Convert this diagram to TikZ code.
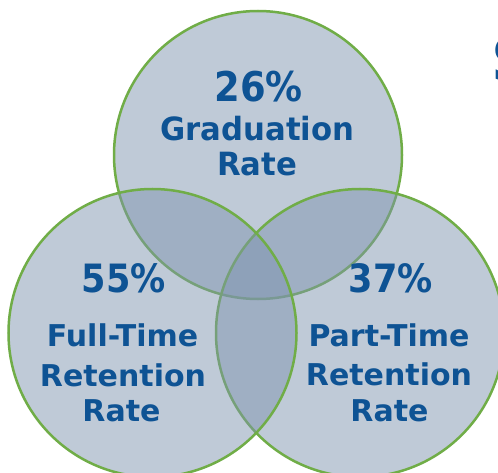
\documentclass[tikz,border=0pt]{standalone}
\usepackage{fontspec}
\setmainfont{DejaVu Sans}
\newfontfamily\numfont{DejaVu Sans}[FakeStretch=0.9]
\newfontfamily\topfont{DejaVu Sans}[FakeStretch=0.96]
\definecolor{vennfill}{RGB}{126,147,175}
\definecolor{venngreen}{RGB}{112,173,71}
\definecolor{txtblue}{RGB}{14,83,148}
\tikzset{
  venn/.style={circle, minimum size=288pt, inner sep=0pt, outer sep=0pt,
    fill=vennfill, fill opacity=0.49, draw=venngreen, draw opacity=1, line width=2.5pt},
  numtxt/.style={anchor=base, inner sep=0pt, text=txtblue, font=\numfont\fontsize{39}{39}\selectfont\bfseries},
  toptxt/.style={anchor=base, inner sep=0pt, text=txtblue, font=\topfont\fontsize{32}{32}\selectfont\bfseries},
  lbltxt/.style={anchor=base, inner sep=0pt, text=txtblue, font=\fontsize{30}{30}\selectfont\bfseries}
}
\begin{document}
\begin{tikzpicture}[x=1pt,y=-1pt]
\useasboundingbox (0,0) rectangle (498,473);
\clip (0,0) rectangle (498,473);
\fill[white] (0,0) rectangle (498,473);
% circles: top, right, left (drawing order matters)
\node[venn] (ctop) at (258,155) {};
\node[venn] (cright) at (360,333) {};
\node[venn] (cleft) at (152.5,333) {};
% top labels
\node[numtxt, font=\numfont\fontsize{41}{41}\selectfont\bfseries] (tnum) at (258.5,102) {26\%};
\node[toptxt] (tl1) at (257.5,141) {Graduation};
\node[toptxt] (tl2) at (257,176) {Rate};
% left labels
\node[numtxt] (lnum) at (124,292) {55\%};
\node[lbltxt] (ll1) at (122.5,346.7) {Full-Time};
\node[lbltxt] (ll2) at (123,386) {Retention};
\node[lbltxt] (ll3) at (121.5,421.7) {Rate};
% right labels
\node[numtxt] (rnum) at (391,292) {37\%};
\node[lbltxt] (rl1) at (389,346.7) {Part-Time};
\node[lbltxt] (rl2) at (389,385.5) {Retention};
\node[lbltxt] (rl3) at (389.5,421.7) {Rate};
% clipped title letter at the right edge
\node[anchor=base west, inner sep=0pt, text=txtblue, font=\fontsize{60}{60}\selectfont\bfseries] (title) at (491,82) {S};
\end{tikzpicture}
\end{document}
